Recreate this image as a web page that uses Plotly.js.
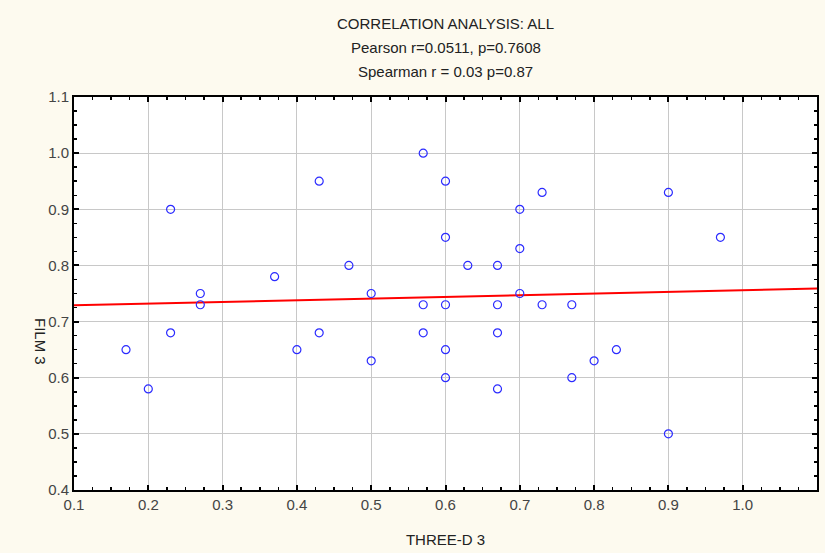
<!DOCTYPE html>
<html>
<head>
<meta charset="utf-8">
<script src="https://cdn.plot.ly/plotly-3.0.1.min.js"></script>
<style>html,body{margin:0;padding:0;background:#FDFAEF;}#chart{width:825px;height:553px;}</style>
</head>
<body>
<div id="chart"></div>
<script>
const threeD3 = [0.17,0.20,0.23,0.23,0.27,0.27,0.37,0.40,0.43,0.43,0.47,0.50,0.50,0.57,0.57,0.57,0.60,0.60,0.60,0.60,0.60,0.63,0.67,0.67,0.67,0.67,0.70,0.70,0.70,0.73,0.73,0.77,0.77,0.80,0.83,0.90,0.90,0.97];
const film3   = [0.65,0.58,0.90,0.68,0.75,0.73,0.78,0.65,0.95,0.68,0.80,0.75,0.63,1.00,0.73,0.68,0.95,0.85,0.73,0.65,0.60,0.80,0.80,0.73,0.68,0.58,0.90,0.83,0.75,0.93,0.73,0.73,0.60,0.63,0.65,0.93,0.50,0.85];
const fitX = [0.1, 1.1];
const fitY = [0.729, 0.759];
const titleLines = ["CORRELATION ANALYSIS: ALL", "Pearson r=0.0511, p=0.7608", "Spearman r = 0.03 p=0.87"];
const xLabel = "THREE-D 3";
const yLabel = "FILM 3";

const font = {family: "Liberation Sans Narrow, Arial Narrow, Liberation Sans, sans-serif", size: 15, color: "#222"};
const tickFont = {family: "Liberation Sans Narrow, Arial Narrow, Liberation Sans, sans-serif", size: 15, color: "#444"};

const traces = [
  {x: fitX, y: fitY, mode: "lines", type: "scatter", line: {color: "#FF0000", width: 2}, hoverinfo: "skip"},
  {x: threeD3, y: film3, mode: "markers", type: "scatter",
   marker: {symbol: "circle-open", size: 8, color: "#2B2BFF", line: {width: 1.2, color: "#2B2BFF"}}}
];

const minorTicks = {dtick: 0.025, ticks: "inside", ticklen: 3, tickwidth: 1.5, tickcolor: "#000", showgrid: false};
const axisCommon = {
  showline: true, linecolor: "#000", linewidth: 2, mirror: "ticks",
  ticks: "inside", ticklen: 5, tickwidth: 2, tickcolor: "#000",
  showgrid: true, gridcolor: "#C8C8C8", gridwidth: 1, zeroline: false,
  tickformat: ".1f", dtick: 0.1, tickfont: tickFont
};

const layout = {
  width: 825, height: 553,
  paper_bgcolor: "#FDFAEF", plot_bgcolor: "#FFFFFF",
  margin: {l: 74, r: 8, t: 97, b: 63},
  showlegend: false,
  font: font,
  title: {text: titleLines[0], font: font, x: 0.5, xref: "paper", y: 1 - 24/553, yref: "container", yanchor: "middle", xanchor: "center"},
  xaxis: Object.assign({}, axisCommon, {range: [0.1, 1.1], tick0: 0.1, minor: minorTicks, title: {text: xLabel, font: font, standoff: 22}}),
  yaxis: Object.assign({}, axisCommon, {range: [0.4, 1.1], tick0: 0.4, minor: minorTicks}),
  annotations: [
    {text: titleLines[1], xref: "paper", yref: "paper", x: 0.5, y: 1.127, showarrow: false, font: font, xanchor: "center", yanchor: "middle"},
    {text: titleLines[2], xref: "paper", yref: "paper", x: 0.5, y: 1.064, showarrow: false, font: font, xanchor: "center", yanchor: "middle"},
    {text: yLabel, xref: "paper", yref: "paper", x: -0.046, y: 0.377, showarrow: false, font: font, textangle: 90, xanchor: "center", yanchor: "middle"}
  ]
};

Plotly.newPlot("chart", traces, layout, {staticPlot: true, displayModeBar: false});
</script>
</body>
</html>
